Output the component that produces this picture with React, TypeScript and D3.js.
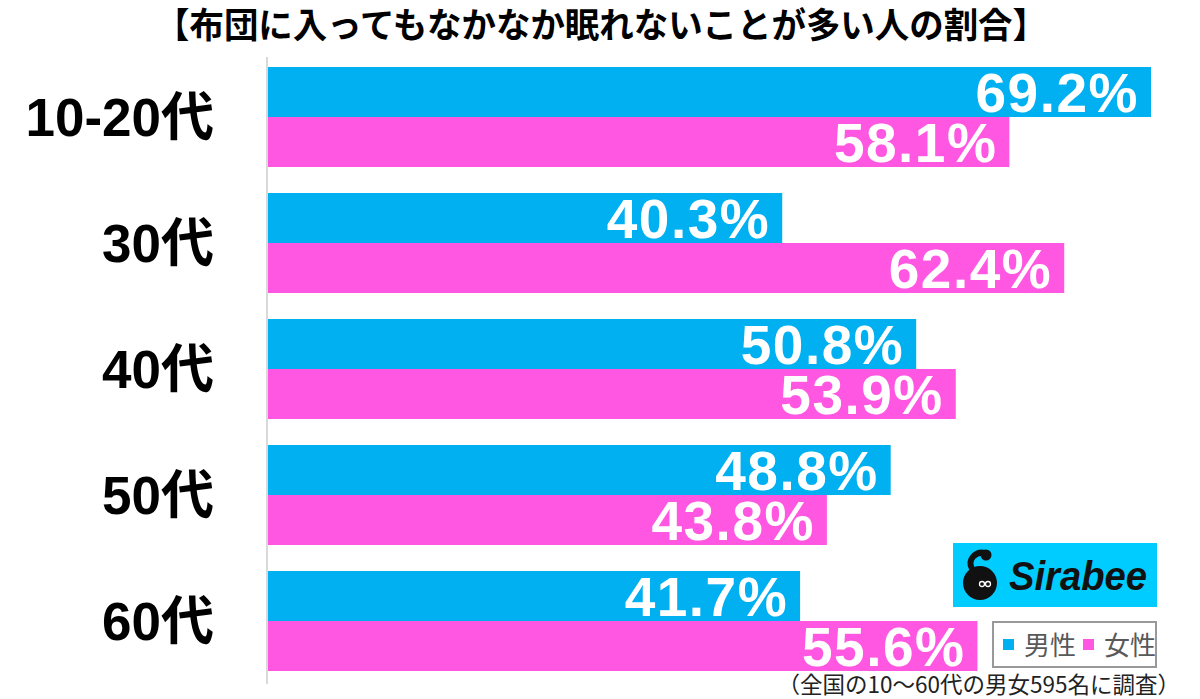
import React from 'react';
import * as d3 from 'd3';

const categories = ['10-20代', '30代', '40代', '50代', '60代'];
const male = [69.2, 40.3, 50.8, 48.8, 41.7];
const female = [58.1, 62.4, 53.9, 43.8, 55.6];
const seriesNames = ['男性', '女性'];

const W = 1200;
const H = 699;
const BLUE = '#00B0F0';
const PINK = '#FF57E2';
const NUM_FONT = '"Liberation Sans", Arial, "Noto Sans CJK JP", sans-serif';
const JP_FONT = '"Noto Sans CJK JP", sans-serif';

export default function App() {
  const x = d3.scaleLinear().domain([0, 100]).range([268, 268 + 1276]);
  const y = d3.scaleBand().domain(categories).range([67, 697]).paddingInner(0).paddingOuter(0);
  const barH = 50;

  return (
    <svg width={W} height={H} style={{ position: 'absolute', left: 0, top: 0, background: '#fff' }}>
      <text x={601} y={38} textAnchor="middle" fontFamily={JP_FONT} fontWeight={700} fontSize={35}
        textLength={892} lengthAdjust="spacingAndGlyphs">
        【布団に入ってもなかなか眠れないことが多い人の割合】
      </text>

      {categories.map((c, i) => {
        const y0 = y(c)!;
        const vals = [male[i], female[i]];
        return (
          <g key={c}>
            {vals.map((v, j) => {
              const top = y0 + j * barH;
              return (
                <g key={j}>
                  <rect x={x(0)} y={top} width={x(v) - x(0)} height={barH} fill={j === 0 ? BLUE : PINK} />
                  <text x={x(v) - 12} y={top + barH / 2 + 20} textAnchor="end" fill="#fff"
                    fontFamily={NUM_FONT} fontWeight={700} fontSize={55} letterSpacing={1.5}>
                    {v.toFixed(1)}%
                  </text>
                </g>
              );
            })}
            <text x={214} y={y0 + barH + 19} textAnchor="end" fontFamily={NUM_FONT} fontWeight={700} fontSize={53}>
              {c}
            </text>
          </g>
        );
      })}

      <line x1={267} x2={267} y1={57} y2={684} stroke="#d9d9d9" strokeWidth={2} />

      {/* Sirabee logo */}
      <rect x={953} y={543} width={204} height={64} fill="#00CCFF" />
      <circle cx={980} cy={583} r={17} fill="#111" />
      <path d="M972,569 C967,559 976,551 985,553" stroke="#111" strokeWidth={6} fill="none" />
      <circle cx={986} cy={555} r={5.5} fill="#111" />
      <circle cx={982} cy={584} r={2.5} fill="none" stroke="#fff" strokeWidth={1.3} />
      <circle cx={988} cy={584} r={2.5} fill="none" stroke="#fff" strokeWidth={1.3} />
      <text x={1009} y={590} fontFamily={NUM_FONT} fontWeight={700} fontStyle="italic" fontSize={40}
        fill="#111" textLength={138} lengthAdjust="spacingAndGlyphs">
        Sirabee
      </text>

      {/* legend */}
      <rect x={993} y={622} width={163} height={45} fill="#fff" stroke="#999" strokeWidth={2} />
      {seriesNames.map((s, i) => (
        <g key={s}>
          <rect x={1003 + i * 80} y={639} width={11} height={11} fill={i === 0 ? BLUE : PINK} />
          <text x={1024 + i * 80} y={655} fontFamily={JP_FONT} fontSize={26} fill="#595959">
            {s}
          </text>
        </g>
      ))}

      <text x={1180} y={693} textAnchor="end" fontFamily={JP_FONT} fontSize={22.5} fill="#222">
        （全国の10～60代の男女595名に調査）
      </text>
    </svg>
  );
}
